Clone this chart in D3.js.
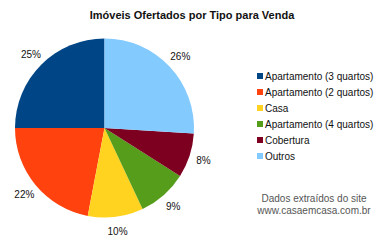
<!DOCTYPE html>
<html>
<head>
<meta charset="utf-8">
<script src="https://cdn.jsdelivr.net/npm/d3@7"></script>
<style>
  body { margin: 0; background: #fff; }
  text { font-family: "Liberation Sans", Arial, sans-serif; }
</style>
</head>
<body>
<div id="chart"></div>
<script>
// ----------------------------------------
// DATA
// ----------------------------------------
const categories = [
  "Apartamento (3 quartos)",
  "Apartamento (2 quartos)",
  "Casa",
  "Apartamento (4 quartos)",
  "Cobertura",
  "Outros"
];
const shares = [25, 22, 10, 9, 8, 26];
const colors = ["#004586", "#ff420e", "#ffd320", "#579d1c", "#7e0021", "#83caff"];
const title = "Imóveis Ofertados por Tipo para Venda";
const source = ["Dados extraídos do site", "www.casaemcasa.com.br"];

const data = categories.map((c, i) => ({ name: c, value: shares[i], color: colors[i] }));

// ----------------------------------------
// SETUP
// ----------------------------------------
const width = 385, height = 240;
const cx = 104.5, cy = 128, radius = 89.5;

const svg = d3.select("#chart")
  .append("svg")
  .attr("width", width)
  .attr("height", height);

svg.append("text")
  .attr("x", 192)
  .attr("y", 19)
  .attr("text-anchor", "middle")
  .attr("fill", "#111")
  .style("font-size", "11px")
  .style("font-weight", "bold")
  .text(title);

// ----------------------------------------
// PIE (counter-clockwise from 12 o'clock)
// ----------------------------------------
const pie = d3.pie()
  .sort(null)
  .value(d => d.value)
  .startAngle(0)
  .endAngle(-2 * Math.PI);

const arc = d3.arc().innerRadius(0).outerRadius(radius);
const labelArc = d3.arc().innerRadius(104).outerRadius(104);

const g = svg.append("g")
  .attr("transform", `translate(${cx},${cy})`);

const arcs = pie(data);

g.selectAll("path")
  .data(arcs)
  .join("path")
  .attr("d", arc)
  .attr("fill", d => d.data.color);

g.selectAll(".pct")
  .data(arcs)
  .join("text")
  .attr("class", "pct")
  .attr("transform", d => `translate(${labelArc.centroid(d)})`)
  .attr("text-anchor", "middle")
  .attr("dy", "0.35em")
  .attr("fill", "#111")
  .style("font-size", "10px")
  .text(d => d.data.value + "%");

// ----------------------------------------
// LEGEND
// ----------------------------------------
const ly = d3.scalePoint()
  .domain(categories)
  .range([76, 156]);

const legend = svg.append("g");

legend.selectAll("rect")
  .data(data)
  .join("rect")
  .attr("x", 257)
  .attr("y", d => ly(d.name) - 3)
  .attr("width", 6)
  .attr("height", 6)
  .attr("fill", d => d.color);

legend.selectAll("text")
  .data(data)
  .join("text")
  .attr("x", 265)
  .attr("y", d => ly(d.name))
  .attr("dy", "0.35em")
  .attr("fill", "#111")
  .style("font-size", "10px")
  .text(d => d.name);

// ----------------------------------------
// SOURCE NOTE
// ----------------------------------------
svg.selectAll(".src")
  .data(source)
  .join("text")
  .attr("class", "src")
  .attr("x", 314)
  .attr("y", (d, i) => 198 + i * 12.5)
  .attr("dy", "0.35em")
  .attr("text-anchor", "middle")
  .attr("fill", "#555")
  .style("font-size", "10px")
  .text(d => d);
</script>
</body>
</html>
